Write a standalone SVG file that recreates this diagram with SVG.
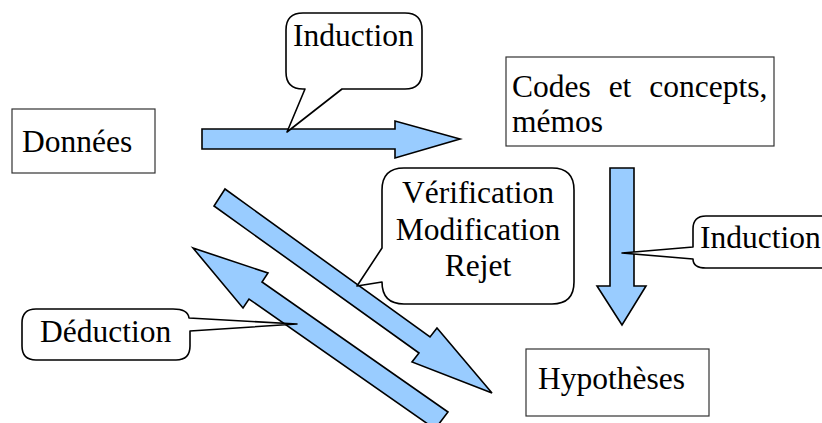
<svg xmlns="http://www.w3.org/2000/svg" width="822" height="423" viewBox="0 0 822 423">
<style>
.box{fill:#fff;stroke:#333;stroke-width:1.2}
.arr{fill:#99ccff;stroke:#000;stroke-width:1.6;stroke-linejoin:miter}
.call{fill:#fff;stroke:#000;stroke-width:1.6;stroke-linejoin:round}
</style>
<rect width="822" height="423" fill="#fff"/>
<g id="connectors">
<polygon class="arr" points="202,129 395,129 395,121 460,139 395,158 395,149 202,149"/>
<polygon class="arr" points="610,168 634,168 634,286 646,286 622,325 597,286 610,286"/>
<polygon class="arr" points="225,189 430,337 437,328 492,393 412,362 419,353 214,206"/>
<polygon class="arr" points="193,248 268,273 262,282 448,412 435,429 249,299 243,308"/>
</g>
<g font-family="Liberation Serif, Times New Roman, serif" font-size="31.5" fill="#000">
<g id="donnees">
<rect class="box" x="12" y="109" width="143" height="64"/>
<text x="22" y="152">Données</text>
</g>
<g id="codes">
<rect class="box" x="506" y="57" width="268" height="89"/>
<text x="512" y="97" word-spacing="10">Codes et concepts,</text>
<text x="512" y="132">mémos</text>
</g>
<g id="hypotheses">
<rect class="box" x="526" y="349" width="183" height="67"/>
<text x="538" y="389">Hypothèses</text>
</g>
<g id="induction-top">
<path class="call" d="M303,13 H405 Q422,13 422,30 V72 Q422,89 405,89 H342 L287,132 L305,89 H303 Q286,89 286,72 V30 Q286,13 303,13 Z"/>
<text x="293" y="46">Induction</text>
</g>
<g id="induction-right">
<path class="call" d="M706,216 H840 V268 H706 Q693,268 693,259 L622,253 L693,247 V229 Q693,216 706,216 Z"/>
<text x="700" y="248">Induction</text>
</g>
<g id="verification">
<path class="call" d="M404,168 H552 Q574,168 574,190 V282 Q574,304 552,304 H404 Q382,304 382,282 L357,286 L382,248 V190 Q382,168 404,168 Z"/>
<text x="478" y="203" text-anchor="middle">Vérification</text>
<text x="478" y="240" text-anchor="middle">Modification</text>
<text x="478" y="276" text-anchor="middle">Rejet</text>
</g>
<g id="deduction">
<path class="call" d="M36,309 H173 Q188,309 189,318 L297,324 L190,331 V346 Q190,360 176,360 H36 Q22,360 22,346 V323 Q22,309 36,309 Z"/>
<text x="40" y="342">Déduction</text>
</g>
</g>
</svg>
